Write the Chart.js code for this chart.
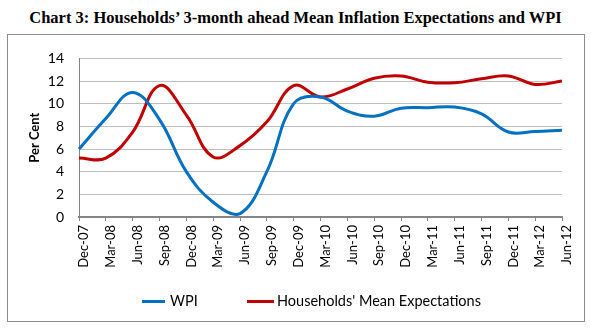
<!DOCTYPE html>
<html>
<head>
<meta charset="utf-8">
<script src="https://cdn.jsdelivr.net/npm/chart.js@4"></script>
<style>
  body { margin: 0; background: #fff; width: 591px; height: 330px; position: relative; overflow: hidden; }
  #title { position: absolute; left: 0; top: 8px; width: 591px; text-align: center;
           font: bold 16.5px "Liberation Serif", serif; color: #000; }
  #box { position: absolute; left: 7px; top: 34px; width: 576px; height: 286px;
         border: 1px solid #8c8c8c; }
  .key { position: absolute; height: 3px; top: 300px; }
  .keytext { position: absolute; top: 292px; font: 14.5px Lato, sans-serif; color: #000; line-height: 18px; }
</style>
</head>
<body>
<div id="title">Chart 3: Households’ 3-month ahead Mean Inflation Expectations and WPI</div>
<div id="box"><canvas id="chart"></canvas></div>
<div id="legend"></div>
<script>
const quarters = ['Dec-07', 'Mar-08', 'Jun-08', 'Sep-08', 'Dec-08', 'Mar-09', 'Jun-09', 'Sep-09', 'Dec-09', 'Mar-10',
                  'Jun-10', 'Sep-10', 'Dec-10', 'Mar-11', 'Jun-11', 'Sep-11', 'Dec-11', 'Mar-12', 'Jun-12'];
const wpi = [6.0, 8.7, 11.0, 8.6, 4.0, 1.3, 0.3, 4.0, 10.0, 10.6,
             9.35, 8.9, 9.6, 9.65, 9.7, 9.1, 7.5, 7.55, 7.65];
const households = [5.2, 5.2, 7.5, 11.6, 9.0, 5.3, 6.3, 8.4, 11.6, 10.6,
                    11.3, 12.25, 12.45, 11.9, 11.85, 12.2, 12.45, 11.7, 12.0];
const yTicks = [0, 2, 4, 6, 8, 10, 12, 14];

const fontFamily = 'Lato';
const wpiColor = '#0070c0';
const hhColor = '#c00000';

let ctx = document.getElementById('chart');

let chart = new Chart(ctx, {
    type: 'line',
    data: {
        labels: quarters,
        datasets: [{
            label: 'WPI',
            data: wpi,
            borderColor: wpiColor,
            backgroundColor: wpiColor,
            borderWidth: 3,
            pointRadius: 0,
            tension: 0.4,
            fill: false,
        }, {
            label: "Households' Mean Expectations",
            data: households,
            borderColor: hhColor,
            backgroundColor: hhColor,
            borderWidth: 3,
            pointRadius: 0,
            tension: 0.4,
            fill: false,
        }]
    },
    options: {
        responsive: true,
        maintainAspectRatio: false,
        animation: false,
        layout: {
            padding: { left: 19, right: 22, top: 12, bottom: 44 }
        },
        plugins: {
            legend: { display: false },
            tooltip: { enabled: false }
        },
        scales: {
            x: {
                afterFit: (scale) => { scale.height = 60; },
                grid: {
                    display: true,
                    drawOnChartArea: false,
                    drawTicks: true,
                    tickLength: 4,
                    color: '#868686',
                },
                border: { color: '#868686', width: 2 },
                ticks: {
                    autoSkip: false,
                    minRotation: 90,
                    maxRotation: 90,
                    padding: 4,
                    labelOffset: 5,
                    color: '#000',
                    font: { size: 13, family: fontFamily }
                }
            },
            y: {
                min: 0,
                max: 14,
                afterFit: (scale) => { scale.width = 52; },
                afterBuildTicks: (scale) => { scale.ticks = yTicks.map(v => ({ value: v })); },
                grid: {
                    color: '#bfbfbf',
                    drawTicks: false,
                },
                border: { color: '#868686', width: 1 },
                title: {
                    display: true,
                    text: 'Per Cent',
                    color: '#000',
                    font: { size: 13, weight: 'bold', family: fontFamily },
                    padding: { top: 0, bottom: 0 }
                },
                ticks: {
                    padding: 15,
                    color: '#000',
                    font: { size: 14, family: fontFamily }
                }
            }
        }
    }
});

// legend in the same place as the Excel one
let legend = document.getElementById('legend');
const keyPos = [[142, 23, 170], [247, 27, 277]];
chart.data.datasets.forEach((ds, i) => {
    let line = document.createElement('div');
    line.className = 'key';
    line.style.left = keyPos[i][0] + 'px';
    line.style.width = keyPos[i][1] + 'px';
    line.style.background = ds.borderColor;
    legend.appendChild(line);
    let txt = document.createElement('div');
    txt.className = 'keytext';
    txt.style.left = keyPos[i][2] + 'px';
    txt.textContent = ds.label;
    legend.appendChild(txt);
});
</script>
</body>
</html>
